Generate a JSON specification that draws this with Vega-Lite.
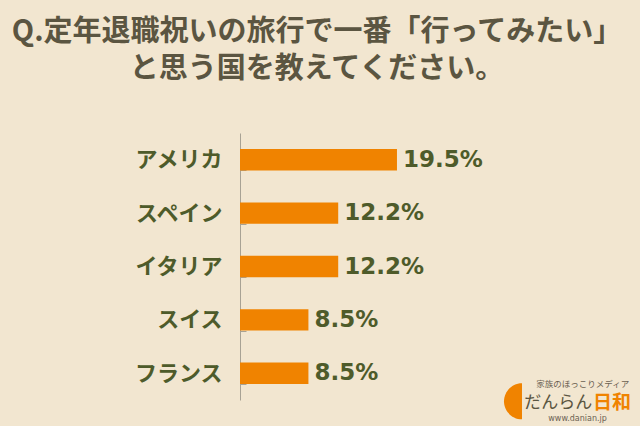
{
  "$schema": "https://vega.github.io/schema/vega-lite/v6.json",
  "width": 322,
  "height": 267,
  "autosize": "none",
  "padding": {"left": 240, "top": 133, "right": 78, "bottom": 26},
  "background": "#F2E6D0",
  "config": {"view": {"stroke": null}},
  "title": {
    "text": ["Q.定年退職祝いの旅行で一番「行ってみたい」", "と思う国を教えてください。"],
    "font": "Noto Sans CJK JP",
    "fontSize": 29,
    "fontWeight": "bold",
    "color": "#5B5541",
    "anchor": "middle",
    "frame": "group",
    "dx": -84,
    "offset": 38,
    "lineHeight": 37
  },
  "data": {
    "values": [
      {"country": "アメリカ", "value": 19.5, "label": "19.5%"},
      {"country": "スペイン", "value": 12.2, "label": "12.2%"},
      {"country": "イタリア", "value": 12.2, "label": "12.2%"},
      {"country": "スイス", "value": 8.5, "label": "8.5%"},
      {"country": "フランス", "value": 8.5, "label": "8.5%"}
    ]
  },
  "layer": [
    {
      "mark": {"type": "bar", "color": "#F08300"},
      "encoding": {
        "y": {
          "field": "country",
          "type": "nominal",
          "sort": null,
          "scale": {"paddingInner": 0.6, "paddingOuter": 0.3},
          "axis": {
            "title": null,
            "tickBand": "extent",
            "domainColor": "#A8A294",
            "tickColor": "#A8A294",
            "tickSize": -6,
            "labelFont": "Noto Sans CJK JP",
            "labelFontSize": 22,
            "labelFontWeight": "bold",
            "labelColor": "#4E5B2A",
            "labelPadding": 24
          }
        },
        "x": {"field": "value", "type": "quantitative", "scale": {"domain": [0, 40]}, "axis": null}
      }
    },
    {
      "mark": {"type": "text", "align": "left", "baseline": "middle", "dx": 6, "font": "DejaVu Sans", "fontSize": 23, "fontWeight": "bold", "color": "#4E5B2A"},
      "encoding": {
        "y": {"field": "country", "type": "nominal", "sort": null},
        "x": {"field": "value", "type": "quantitative"},
        "text": {"field": "label"}
      }
    },
    {
      "data": {"values": [{"part": "logo"}]},
      "mark": {"type": "point", "shape": "M 0 -1 A 1 1 0 0 0 0 1 Z", "filled": true, "color": "#F08300", "opacity": 1, "size": 1296, "yOffset": 28, "clip": false},
      "encoding": {"x": {"datum": 35.03, "type": "quantitative"}, "y": {"datum": "フランス", "type": "nominal"}}
    },
    {
      "data": {"values": [{"t": "家族のほっこりメディア"}]},
      "mark": {"type": "text", "align": "left", "baseline": "middle", "dy": 11, "font": "Noto Sans CJK JP", "fontSize": 8.5, "color": "#6B6152", "clip": false},
      "encoding": {"x": {"datum": 36.8, "type": "quantitative"}, "y": {"datum": "フランス", "type": "nominal"}, "text": {"field": "t", "type": "nominal"}}
    },
    {
      "data": {"values": [{"t": "だんらん"}]},
      "mark": {"type": "text", "align": "left", "baseline": "middle", "dy": 30, "font": "Noto Sans CJK JP", "fontSize": 17, "color": "#5B5541", "clip": false},
      "encoding": {"x": {"datum": 35.3, "type": "quantitative"}, "y": {"datum": "フランス", "type": "nominal"}, "text": {"field": "t", "type": "nominal"}}
    },
    {
      "data": {"values": [{"t": "日和"}]},
      "mark": {"type": "text", "align": "left", "baseline": "middle", "dy": 30, "font": "Noto Sans CJK JP", "fontSize": 19, "fontWeight": "bold", "color": "#F08300", "clip": false},
      "encoding": {"x": {"datum": 43.85, "type": "quantitative"}, "y": {"datum": "フランス", "type": "nominal"}, "text": {"field": "t", "type": "nominal"}}
    },
    {
      "data": {"values": [{"t": "www.danian.jp"}]},
      "mark": {"type": "text", "align": "left", "baseline": "middle", "dy": 46, "font": "DejaVu Sans", "fontSize": 8, "color": "#6B6152", "clip": false},
      "encoding": {"x": {"datum": 38.3, "type": "quantitative"}, "y": {"datum": "フランス", "type": "nominal"}, "text": {"field": "t", "type": "nominal"}}
    }
  ]
}
